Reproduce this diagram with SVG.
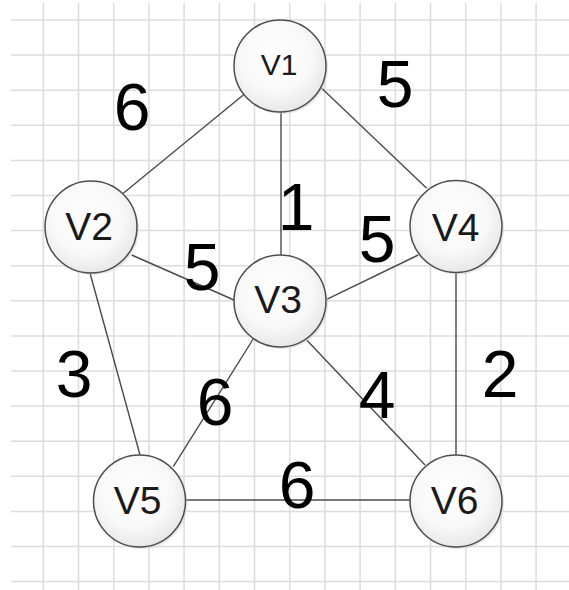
<svg xmlns="http://www.w3.org/2000/svg" width="569" height="590" viewBox="0 0 569 590">
<defs>
<radialGradient id="nodeFill" cx="0.45" cy="0.4" r="0.65">
<stop offset="0" stop-color="#ffffff"/>
<stop offset="0.6" stop-color="#f8f8f8"/>
<stop offset="1" stop-color="#e4e4e4"/>
</radialGradient>
<style>
.grid line{stroke:#dcdcdc;stroke-width:1.5}
.edge{stroke:#4a4a4a;stroke-width:1.4;fill:none}
.node circle.body{fill:url(#nodeFill);stroke:#4d4d4d;stroke-width:1.5}
.node circle.shadow{fill:#cfcfcf;opacity:0.5}
.nlabel{font-family:"Liberation Sans",Arial,sans-serif;font-size:39px;fill:#1a1a1a;text-anchor:middle}
.wlabel{font-family:"Liberation Sans",Arial,sans-serif;font-size:66px;fill:#000;text-anchor:middle}
</style>
</defs>
<rect width="569" height="590" fill="#ffffff"/>
<g class="grid">
<line x1="11" y1="20" x2="569" y2="20"/>
<line x1="11" y1="55.1" x2="569" y2="55.1"/>
<line x1="11" y1="90.2" x2="569" y2="90.2"/>
<line x1="11" y1="125.3" x2="569" y2="125.3"/>
<line x1="11" y1="160.4" x2="569" y2="160.4"/>
<line x1="11" y1="195.5" x2="569" y2="195.5"/>
<line x1="11" y1="230.6" x2="569" y2="230.6"/>
<line x1="11" y1="265.7" x2="569" y2="265.7"/>
<line x1="11" y1="300.8" x2="569" y2="300.8"/>
<line x1="11" y1="335.9" x2="569" y2="335.9"/>
<line x1="11" y1="371" x2="569" y2="371"/>
<line x1="11" y1="406.1" x2="569" y2="406.1"/>
<line x1="11" y1="441.2" x2="569" y2="441.2"/>
<line x1="11" y1="476.3" x2="569" y2="476.3"/>
<line x1="11" y1="511.4" x2="569" y2="511.4"/>
<line x1="11" y1="546.5" x2="569" y2="546.5"/>
<line x1="11" y1="581.6" x2="569" y2="581.6"/>
<line x1="43.3" y1="3" x2="43.3" y2="590"/>
<line x1="78.5" y1="3" x2="78.5" y2="590"/>
<line x1="113.7" y1="3" x2="113.7" y2="590"/>
<line x1="148.9" y1="3" x2="148.9" y2="590"/>
<line x1="184.1" y1="3" x2="184.1" y2="590"/>
<line x1="219.3" y1="3" x2="219.3" y2="590"/>
<line x1="254.5" y1="3" x2="254.5" y2="590"/>
<line x1="289.7" y1="3" x2="289.7" y2="590"/>
<line x1="324.9" y1="3" x2="324.9" y2="590"/>
<line x1="360.1" y1="3" x2="360.1" y2="590"/>
<line x1="395.3" y1="3" x2="395.3" y2="590"/>
<line x1="430.5" y1="3" x2="430.5" y2="590"/>
<line x1="465.7" y1="3" x2="465.7" y2="590"/>
<line x1="500.9" y1="3" x2="500.9" y2="590"/>
<line x1="536.1" y1="3" x2="536.1" y2="590"/>
</g>
<g id="connectors">
<line class="edge" x1="123.3" y1="193.3" x2="243.3" y2="95"/>
<line class="edge" x1="281" y1="112" x2="281" y2="255"/>
<line class="edge" x1="321.7" y1="88.3" x2="426.7" y2="188.3"/>
<line class="edge" x1="131.7" y1="255" x2="234" y2="300"/>
<line class="edge" x1="90" y1="273" x2="140" y2="455"/>
<line class="edge" x1="326.7" y1="299.3" x2="418.3" y2="255"/>
<line class="edge" x1="253.5" y1="338.5" x2="173.3" y2="466.7"/>
<line class="edge" x1="306.7" y1="340" x2="425" y2="465"/>
<line class="edge" x1="456" y1="272.5" x2="456" y2="455"/>
<line class="edge" x1="185.5" y1="500" x2="410.5" y2="500"/>
</g>
<g id="weights">
<text class="wlabel" x="132" y="130">6</text>
<text class="wlabel" x="395" y="106.7">5</text>
<text class="wlabel" x="296" y="230">1</text>
<text class="wlabel" x="202" y="290">5</text>
<text class="wlabel" x="377" y="261.7">5</text>
<text class="wlabel" x="74" y="397">3</text>
<text class="wlabel" x="215" y="425">6</text>
<text class="wlabel" x="377" y="418.3">4</text>
<text class="wlabel" x="500" y="396.7">2</text>
<text class="wlabel" x="297" y="508.3">6</text>
</g>
<g id="V1" class="node">
<circle class="shadow" cx="282" cy="68" r="46"/>
<circle class="body" cx="280" cy="66" r="46"/>
<text class="nlabel" x="279" y="75" style="font-size:30px">V1</text>
</g>
<g id="V2" class="node">
<circle class="shadow" cx="93" cy="229" r="46"/>
<circle class="body" cx="91" cy="227" r="46"/>
<text class="nlabel" x="89" y="240">V2</text>
</g>
<g id="V3" class="node">
<circle class="shadow" cx="282" cy="303" r="46"/>
<circle class="body" cx="280" cy="301" r="46"/>
<text class="nlabel" x="278" y="313.3">V3</text>
</g>
<g id="V4" class="node">
<circle class="shadow" cx="458" cy="228.5" r="46"/>
<circle class="body" cx="456" cy="226.5" r="46"/>
<text class="nlabel" x="455.5" y="240.7">V4</text>
</g>
<g id="V5" class="node">
<circle class="shadow" cx="141.5" cy="503" r="46"/>
<circle class="body" cx="139.5" cy="501" r="46"/>
<text class="nlabel" x="137.5" y="514.3">V5</text>
</g>
<g id="V6" class="node">
<circle class="shadow" cx="458" cy="503" r="46"/>
<circle class="body" cx="456" cy="501" r="46"/>
<text class="nlabel" x="454.5" y="514.3">V6</text>
</g>
</svg>
